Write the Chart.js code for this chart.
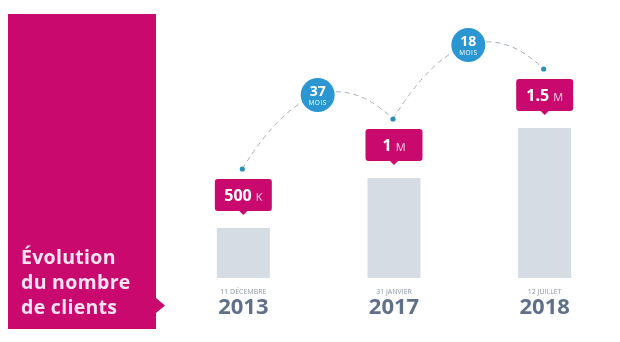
<!DOCTYPE html>
<html>
<head>
<meta charset="utf-8">
<script src="https://cdn.jsdelivr.net/npm/chart.js@4/dist/chart.umd.min.js"></script>
<style>
  html, body { margin: 0; padding: 0; background: #ffffff; }
  #wrap { position: relative; width: 620px; height: 342px; }
</style>
</head>
<body>
<div id="wrap"><canvas id="chart"></canvas></div>
<script>
// Data
const dates = ['11 DÉCEMBRE', '31 JANVIER', '12 JUILLET'];
const years = ['2013', '2017', '2018'];
const clients = [0.5, 1, 1.5];          // millions
const valueLabels = ['500', '1', '1.5'];
const valueUnits = ['K', 'M', 'M'];
const monthsBetween = [37, 18];
const titleLines = ['Évolution', 'du nombre', 'de clients'];

const MAGENTA = '#c9096d';
const BLUE = '#2a97d3';
const FONT = '"Open Sans", Lato, sans-serif';

function roundRect(ctx, x, y, w, h, r) {
    ctx.beginPath();
    ctx.moveTo(x + r, y);
    ctx.lineTo(x + w - r, y);
    ctx.quadraticCurveTo(x + w, y, x + w, y + r);
    ctx.lineTo(x + w, y + h - r);
    ctx.quadraticCurveTo(x + w, y + h, x + w - r, y + h);
    ctx.lineTo(x + r, y + h);
    ctx.quadraticCurveTo(x, y + h, x, y + h - r);
    ctx.lineTo(x, y + r);
    ctx.quadraticCurveTo(x, y, x + r, y);
    ctx.closePath();
}

// Left title panel, drawn behind everything
const panelPlugin = {
    id: 'panel',
    beforeDraw(chart) {
        const ctx = chart.ctx;
        ctx.save();
        ctx.fillStyle = MAGENTA;
        ctx.beginPath();
        ctx.moveTo(8, 14);
        ctx.lineTo(156, 14);
        ctx.lineTo(156, 298);
        ctx.lineTo(165, 305.5);
        ctx.lineTo(156, 313);
        ctx.lineTo(156, 329);
        ctx.lineTo(8, 329);
        ctx.closePath();
        ctx.fill();
        ctx.fillStyle = '#fbe3f0';
        ctx.font = 'bold 19.5px ' + FONT;
        ctx.letterSpacing = '0.3px';
        ctx.textBaseline = 'middle';
        ctx.textAlign = 'left';
        titleLines.forEach((t, i) => ctx.fillText(t, 21, 258 + i * 25));
        ctx.letterSpacing = '0px';
        ctx.restore();
    }
};

// Callouts, dots, dashed arcs, month bubbles and the date labels
const annotatePlugin = {
    id: 'annotate',
    afterDatasetsDraw(chart) {
        const ctx = chart.ctx;
        const xs = chart.scales.x;
        const ys = chart.scales.y;
        const base = ys.getPixelForValue(0);

        const pts = clients.map((v, i) => {
            const x = xs.getPixelForValue(i);
            const top = ys.getPixelForValue(v);
            return { x, top, dotX: x - 1, dotY: top - 59 };
        });

        ctx.save();

        // dashed arcs + month bubbles
        for (let i = 0; i < monthsBetween.length; i++) {
            const a = pts[i], b = pts[i + 1];
            const mx = (a.dotX + b.dotX) / 2;
            const my = Math.min(a.dotY, b.dotY) - 24;
            const cx = 2 * mx - (a.dotX + b.dotX) / 2;
            const cy = 2 * my - (a.dotY + b.dotY) / 2;
            ctx.strokeStyle = '#a3adb8';
            ctx.lineWidth = 1;
            ctx.setLineDash([5, 4]);
            ctx.beginPath();
            ctx.moveTo(a.dotX, a.dotY);
            ctx.quadraticCurveTo(cx, cy, b.dotX, b.dotY);
            ctx.stroke();
            ctx.setLineDash([]);

            ctx.fillStyle = BLUE;
            ctx.beginPath();
            ctx.arc(mx, my, 17, 0, Math.PI * 2);
            ctx.fill();
            ctx.fillStyle = '#ffffff';
            ctx.textAlign = 'center';
            ctx.textBaseline = 'middle';
            ctx.font = 'bold 14px ' + FONT;
            ctx.fillText(String(monthsBetween[i]), mx, my - 3);
            ctx.font = '6.5px ' + FONT;
            ctx.letterSpacing = '0.5px';
            ctx.fillText('MOIS', mx, my + 8);
            ctx.letterSpacing = '0px';
        }

        pts.forEach((p, i) => {
            // small dot
            ctx.fillStyle = '#2b8fb8';
            ctx.beginPath();
            ctx.arc(p.dotX, p.dotY, 2.6, 0, Math.PI * 2);
            ctx.fill();

            // callout box with pointer
            const bw = 57, bh = 32;
            const bx = p.x - bw / 2;
            const by = p.top - 17 - bh;
            ctx.fillStyle = MAGENTA;
            roundRect(ctx, bx, by, bw, bh, 3);
            ctx.fill();
            ctx.beginPath();
            ctx.moveTo(p.x - 4, by + bh);
            ctx.lineTo(p.x, by + bh + 4);
            ctx.lineTo(p.x + 4, by + bh);
            ctx.closePath();
            ctx.fill();

            ctx.fillStyle = '#ffffff';
            ctx.textBaseline = 'alphabetic';
            ctx.font = 'bold 16px ' + FONT;
            const w1 = ctx.measureText(valueLabels[i]).width;
            ctx.font = '11px ' + FONT;
            const w2 = ctx.measureText(valueUnits[i]).width;
            const total = w1 + 4 + w2;
            const tx = p.x - total / 2;
            ctx.textAlign = 'left';
            ctx.font = 'bold 16px ' + FONT;
            ctx.fillText(valueLabels[i], tx, by + bh / 2 + 6);
            ctx.fillStyle = '#f7cfe4';
            ctx.font = '11px ' + FONT;
            ctx.fillText(valueUnits[i], tx + w1 + 4, by + bh / 2 + 6);

            // date + year under bar
            ctx.textAlign = 'center';
            ctx.textBaseline = 'middle';
            ctx.fillStyle = '#8c96a5';
            ctx.font = '7px ' + FONT;
            ctx.fillText(dates[i], p.x, base + 14);
            ctx.fillStyle = '#61708a';
            ctx.font = 'bold 22px ' + FONT;
            ctx.fillText(years[i], p.x, base + 30);
        });

        ctx.restore();
    }
};

new Chart(document.getElementById('chart'), {
    type: 'bar',
    data: {
        labels: years,
        datasets: [{
            data: clients,
            backgroundColor: '#d6dce4',
            borderWidth: 0,
            barPercentage: 0.352,
            categoryPercentage: 1
        }]
    },
    options: {
        responsive: true,
        maintainAspectRatio: false,
        animation: false,
        layout: { padding: { left: 168, right: 0, top: 28, bottom: 64 } },
        plugins: {
            legend: { display: false },
            tooltip: { enabled: false }
        },
        scales: {
            x: { display: false },
            y: { display: false, min: 0, max: 2.5 }
        }
    },
    plugins: [panelPlugin, annotatePlugin]
});
</script>
</body>
</html>
